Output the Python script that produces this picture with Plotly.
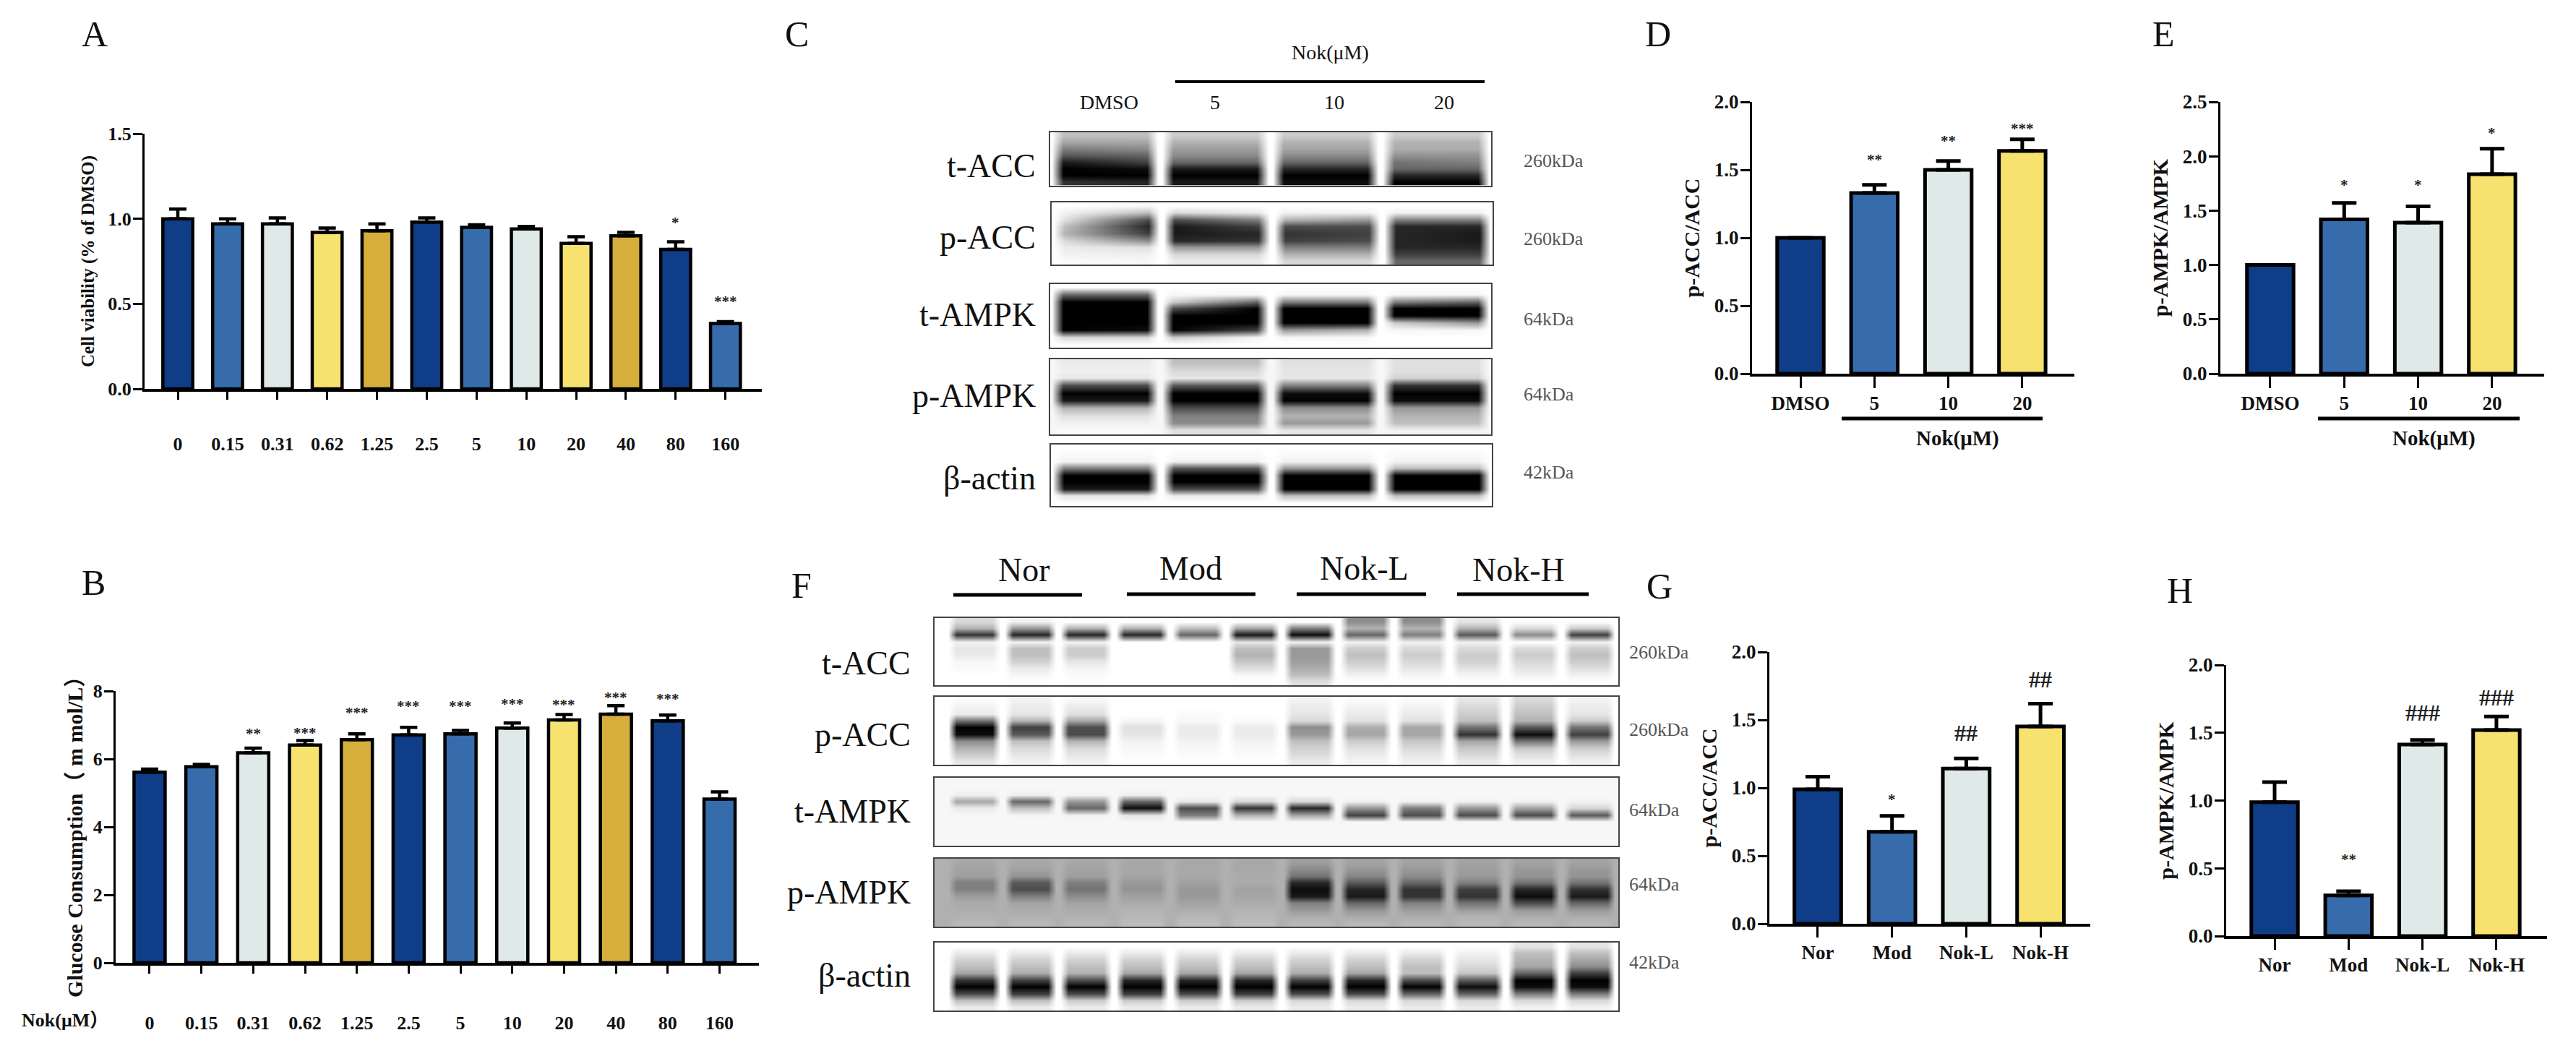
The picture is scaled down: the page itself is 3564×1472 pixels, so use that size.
import plotly.graph_objects as go

W, H = 3564, 1472
PAGE_MARGIN = 8
FW, FH = W - 2 * PAGE_MARGIN, H - 2 * PAGE_MARGIN
SERIF = "Liberation Serif, Noto Sans CJK SC, serif"
NAVY, BLUE, PALE, YELLOW, GOLD = "#0f3d87", "#366cab", "#dfe9e8", "#f7e26f", "#d6ae3b"

# ---------- bar chart data ----------
doses = ["0", "0.15", "0.31", "0.62", "1.25", "2.5", "5", "10", "20", "40", "80", "160"]
conc = ["DMSO", "5", "10", "20"]
groups = ["Nor", "Mod", "Nok-L", "Nok-H"]

a_values = [1.0, 0.97, 0.97, 0.92, 0.93, 0.98, 0.95, 0.94, 0.855, 0.90, 0.82, 0.385]
a_caps = [1.057, 1.0, 1.005, 0.945, 0.97, 1.005, 0.965, 0.955, 0.895, 0.92, 0.865, 0.395]
a_marks = ["", "", "", "", "", "", "", "", "", "", "*", "***"]
a_mark_y = [0, 0, 0, 0, 0, 0, 0, 0, 0, 0, 1.0, 0.537]

b_values = [5.61, 5.77, 6.18, 6.41, 6.57, 6.71, 6.74, 6.91, 7.15, 7.32, 7.12, 4.82]
b_caps = [5.70, 5.84, 6.32, 6.54, 6.74, 6.93, 6.84, 7.06, 7.31, 7.57, 7.29, 5.03]
b_marks = ["", "", "**", "***", "***", "***", "***", "***", "***", "***", "***", ""]
b_mark_y = [0, 0, 6.85, 6.88, 7.46, 7.67, 7.67, 7.72, 7.71, 7.91, 7.88, 0]

d_values = [1.0, 1.33, 1.50, 1.64]
d_caps = [1.0, 1.39, 1.565, 1.725]
d_marks = ["", "**", "**", "***"]
d_mark_y = [0, 1.60, 1.74, 1.83]

e_values = [1.0, 1.42, 1.39, 1.835]
e_caps = [1.0, 1.57, 1.54, 2.07]
e_marks = ["", "*", "*", "*"]
e_mark_y = [0, 1.77, 1.77, 2.245]

g_values = [0.99, 0.677, 1.142, 1.452]
g_caps = [1.083, 0.794, 1.217, 1.62]
g_marks = ["", "*", "##", "##"]
g_mark_y = [0, 0.942, 1.405, 1.80]

h_values = [0.988, 0.30, 1.414, 1.52]
h_caps = [1.136, 0.33, 1.447, 1.62]
h_marks = ["", "**", "###", "###"]
h_mark_y = [0, 0.59, 1.647, 1.76]

# ---------- blot density estimates (0 white .. 100 black), rows top to bottom ----------
c_tacc = [[25,25,20,20,20,20,20,20],[35,35,30,30,30,30,30,30],[50,45,38,38,35,35,32,32],[65,60,45,45,45,45,42,42],
          [90,75,60,60,60,60,55,50],[100,95,90,90,85,85,60,60],[100,100,100,100,100,100,85,85],[80,85,90,90,95,95,100,100]]
c_pacc = [[0,3,0,0,0,0,0,0],[5,25,15,8,5,5,5,5],[12,70,70,50,30,40,50,50],[25,85,90,75,70,70,85,85],[30,75,90,85,80,75,85,90],
          [15,45,85,80,75,70,85,90],[8,12,40,40,50,50,85,85],[5,6,15,15,30,30,75,75],[2,3,8,8,15,15,60,60]]
c_tampk = [[0,0,0,0,0,0,0,0],[60,60,3,3,3,3,3,3],[100,100,20,60,50,50,50,60],[100,100,70,100,100,100,100,100],
           [100,100,100,100,100,100,100,100],[100,100,100,100,100,100,20,40],[100,95,100,75,40,30,3,3],[15,15,20,4,3,3,0,0],[0,0,0,0,0,0,0,0]]
c_pampk = [[8,8,25,25,12,12,12,12],[6,6,15,15,10,10,12,12],[10,10,10,10,10,10,18,18],[70,70,65,65,50,50,80,80],
           [100,100,100,100,95,95,100,100],[90,90,100,100,100,100,95,95],[30,30,70,70,45,45,40,40],[12,12,50,50,30,30,30,30],
           [6,6,45,45,40,40,25,25],[2,2,12,12,10,10,5,5]]
c_actin = [[0,0,0,0,0,0,0,0],[2,2,2,2,2,2,2,2],[5,5,5,5,5,5,5,5],[50,50,65,65,40,40,25,25],[100,100,100,100,100,100,100,100],
           [100,100,100,100,100,100,100,100],[90,90,70,70,100,100,100,100],[10,10,8,8,25,25,25,25],[0,0,0,0,0,0,0,0]]

f_tacc = [[15,5,0,0,0,0,0,45,45,10,0,0],[30,40,30,30,25,35,50,30,30,30,15,20],[80,85,85,85,60,90,95,60,50,65,45,75],
          [5,5,5,0,0,10,5,5,5,5,0,5],[10,25,20,0,0,25,40,20,15,15,15,20],[8,25,20,0,0,30,40,25,20,20,20,25],
          [3,18,10,0,0,22,38,20,15,18,15,20],[2,8,4,0,0,12,32,12,10,10,10,12],[0,3,2,0,0,3,25,5,4,4,5,5],[0,0,0,0,0,0,12,0,0,0,0,0]]
f_pacc = [[2,5,3,0,0,0,5,2,2,10,15,5],[5,8,8,0,0,0,8,5,5,15,20,8],[8,10,12,0,2,0,10,8,8,20,25,10],[55,30,35,4,3,2,15,12,12,25,30,20],
          [100,75,70,12,8,8,45,32,35,55,65,55],[95,65,70,10,8,8,40,35,35,80,95,75],[45,25,30,5,5,5,25,20,22,35,55,40],
          [30,15,15,3,3,3,18,12,15,22,22,20],[20,10,10,2,2,2,14,8,10,15,12,12],[10,5,5,0,0,0,8,4,5,8,6,6]]
f_tampk = [[3,3,3,3,3,3,3,3,3,3,3,3],[3,3,3,3,3,3,3,3,3,3,3,3],[6,6,4,6,3,3,3,3,3,3,3,3],[35,60,40,60,8,15,15,5,5,5,5,5],
           [8,25,60,95,70,80,85,40,50,40,35,15],[3,4,5,10,50,30,35,75,70,70,70,65],[3,3,3,3,3,3,3,3,3,3,3,3],
           [3,3,3,3,3,3,3,3,3,3,3,3],[3,3,3,3,3,3,3,3,3,3,3,3],[3,3,3,3,3,3,3,3,3,3,3,3]]
f_pampk = [[34,34,34,34,34,34,38,36,36,36,36,36],[36,36,36,34,34,34,45,40,40,38,40,40],[38,42,38,36,34,33,55,48,45,40,42,42],
           [50,65,50,40,37,33,85,65,60,50,55,55],[50,70,55,42,40,36,95,85,80,75,85,80],[38,50,45,37,40,35,90,90,80,80,95,90],
           [33,36,36,33,36,33,50,60,50,55,70,60],[32,33,33,30,32,30,40,42,38,38,40,40],[30,30,30,28,28,28,32,33,32,30,32,32],
           [28,28,28,26,26,26,28,28,28,28,28,28]]
f_actin = [[0,0,0,0,0,0,0,0,0,0,10,10],[8,8,8,8,8,8,8,8,8,5,25,25],[18,18,18,18,18,18,18,18,18,10,30,35],
           [25,25,25,25,25,25,25,25,25,15,35,45],[35,32,30,35,35,35,32,35,25,22,60,75],[80,75,70,85,85,85,75,85,70,65,100,100],
           [100,100,100,100,100,100,100,100,100,95,95,95],[70,75,70,75,70,75,70,70,60,60,50,50],[25,25,20,20,20,20,15,15,15,15,15,15],
           [8,8,8,8,8,8,8,8,8,8,5,5]]

blot_names = ["t-ACC", "p-ACC", "t-AMPK", "p-AMPK", "β-actin"]
c_sizes = ["260kDa", "260kDa", "64kDa", "64kDa", "42kDa"]
f_sizes = ["260kDa", "260kDa", "64kDa", "64kDa", "42kDa"]

# ---------- helpers ----------
def px(x):
    return (x - PAGE_MARGIN) / FW

def py(y):
    return 1 - (y - PAGE_MARGIN) / FH

fig = go.Figure()
layout = {}
annots = []
shapes = []
n_ax = [0]


def text(s, x, y, size, bold=False, color="#111111", anchor="center", angle=0):
    annots.append(dict(text=s, x=px(x), y=py(y), xref="paper", yref="paper", showarrow=False, textangle=angle,
                       xanchor=anchor, yanchor="middle", font=dict(family=SERIF, size=size, color=color,
                       weight=700 if bold else 400)))


def hline(x0, x1, y, w):
    shapes.append(dict(type="line", xref="paper", yref="paper", x0=px(x0), x1=px(x1), y0=py(y), y1=py(y),
                       line=dict(color="black", width=w)))


def bar_chart(cats, vals, caps, marks, mark_y, colors, box, xr, ymax, dtick, title, title_size, standoff, bw, lw, size=27,
              stand=-2, cap=17, tlen=16, mark_shift=-5):
    n_ax[0] += 1
    i = n_ax[0]
    sfx = "" if i == 1 else str(i)
    err = [round(c - v, 4) for c, v in zip(caps, vals)]
    fig.add_trace(go.Bar(x=cats, y=vals, width=bw, marker=dict(color=colors, line=dict(color="black", width=lw)),
                         error_y=dict(type="data", symmetric=False, array=err, arrayminus=[0] * len(err),
                                      color="black", thickness=lw, width=cap),
                         xaxis="x" + sfx, yaxis="y" + sfx, showlegend=False))
    x0, x1, y0, y1 = box
    layout["xaxis" + sfx] = dict(domain=[px(x0), px(x1)], anchor="y" + sfx, type="category", range=xr,
                                 categoryorder="array", categoryarray=cats,
                                 showline=True, linecolor="black", linewidth=4, showgrid=False, zeroline=False,
                                 ticks="outside", ticklen=tlen, tickwidth=3, tickcolor="black", ticklabelstandoff=stand,
                                 tickfont=dict(family=SERIF, size=size, color="#111111", weight=700))
    yax = dict(domain=[py(y0), py(y1)], anchor="x" + sfx, range=[0, ymax], dtick=dtick, tick0=0,
               tickformat=".1f" if dtick < 1 else "d",
               showline=True, linecolor="black", linewidth=3, showgrid=False, zeroline=False,
               ticks="outside", ticklen=13, tickwidth=3, tickcolor="black", ticklabelstandoff=-3,
               tickfont=dict(family=SERIF, size=size, color="#111111", weight=700))
    if title:
        yax["title"] = dict(text=title, standoff=standoff,
                            font=dict(family=SERIF, size=title_size, color="#111111", weight=700))
    layout["yaxis" + sfx] = yax
    for idx, (m, my) in enumerate(zip(marks, mark_y)):
        if m:
            hash_mark = "#" in m
            annots.append(dict(text=m, x=idx, y=my, xref="x" + sfx, yref="y" + sfx, showarrow=False,
                               yshift=0 if hash_mark else mark_shift,
                               font=dict(family=SERIF, size=32 if hash_mark else 21, color="#222222", weight=700)))


def blot(rows, lanes, k, box, bg, hw, gap, lo, hi):
    n_ax[0] += 1
    sfx = str(n_ax[0])
    ny = len(rows)
    xs = [lo]
    for i in range(lanes):
        xs += [i - gap, i - hw, i + hw, i + gap]
    xs.append(hi)
    z = []
    for r in rows:
        line = [bg]
        for i in range(lanes):
            v = r[i * k:(i + 1) * k]
            line += [bg, v[0], v[-1], bg]
        line.append(bg)
        z.append(line)
    y = [(j + 0.5) / ny for j in range(ny)]
    fig.add_trace(go.Heatmap(x=xs, y=y, z=z, zmin=0, zmax=100, zsmooth="best", showscale=False,
                             colorscale=[[0, "#ffffff"], [1, "#000000"]], xaxis="x" + sfx, yaxis="y" + sfx))
    x0, x1, y0, y1 = box
    base = dict(showgrid=False, zeroline=False, showticklabels=False, ticks="", showline=True, mirror=True,
                linecolor="#444444", linewidth=2)
    layout["xaxis" + sfx] = dict(base, domain=[px(x0), px(x1)], anchor="y" + sfx, range=[lo, hi])
    layout["yaxis" + sfx] = dict(base, domain=[py(y1), py(y0)], anchor="x" + sfx, range=[1, 0])


seq12 = [NAVY, BLUE, PALE, YELLOW, GOLD, NAVY, BLUE, PALE, YELLOW, GOLD, NAVY, BLUE]
seq4 = [NAVY, BLUE, PALE, YELLOW]

# A B D E G H
bar_chart(doses, a_values, a_caps, a_marks, a_mark_y, seq12, (200, 1054, 538, 185), [-0.668, 11.73], 1.5, 0.5,
          "Cell viability (% of DMSO)", 25, 12, 0.6, 4.5, size=26, stand=39, cap=12, tlen=11)
bar_chart(doses, b_values, b_caps, b_marks, b_mark_y, seq12, (160, 1050, 1332, 956), [-0.655, 11.76], 8, 2,
          "", 0, 0, 0.6, 4.5, size=26, stand=46, cap=12, tlen=11)
text("Glucose Consumption（ m mol/L）", 103, 1151, 30, bold=True, angle=-90)
bar_chart(conc, d_values, d_caps, d_marks, d_mark_y, seq4, (2424, 2870, 517, 141), [-0.655, 3.705], 2, 0.5,
          "p-ACC/ACC", 30, 12, 0.63, 5)
bar_chart(conc, e_values, e_caps, e_marks, e_mark_y, seq4, (3072, 3519.5, 517, 141), [-0.674, 3.70], 2.5, 0.5,
          "p-AMPK/AMPK", 30, 12, 0.63, 5)
bar_chart(groups, g_values, g_caps, g_marks, g_mark_y, seq4, (2448, 2891.5, 1278, 902), [-0.652, 3.666], 2, 0.5,
          "p-ACC/ACC", 30, 12, 0.63, 5, tlen=15)
bar_chart(groups, h_values, h_caps, h_marks, h_mark_y, seq4, (3080, 3524, 1295, 920), [-0.655, 3.685], 2, 0.5,
          "p-AMPK/AMPK", 30, 12, 0.63, 5, tlen=15)

# C blots
c_boxes = [(1453, 2063, 182.5, 256.5), (1455, 2065, 280, 366), (1453, 2063, 392.5, 481), (1453, 2063, 497, 600.5), (1454, 2064, 614.5, 700)]
for rows, bx, bg in zip([c_tacc, c_pacc, c_tampk, c_pampk, c_actin], c_boxes, [0, 0, 0, 3, 0]):
    blot(rows, 4, 2, bx, bg, 0.38, 0.48, -0.495, 3.5)
for name, yy in zip(blot_names, [229, 328, 435, 547, 661]):
    text(name, 1435, yy, 46, anchor="right")
for s, yy in zip(c_sizes, [222, 330, 441, 545, 653]):
    text(s, 2106, yy, 26, color="#555555", anchor="left")
for s, xx in zip(conc, [1534, 1681, 1845.5, 1998]):
    text(s, xx, 141, 28)
hline(1626, 2054, 113, 4)
text("Nok(μM)", 1840, 73, 28)

# F blots
f_boxes = [(1293, 2239, 855, 948), (1293, 2239, 964, 1058), (1293, 2239, 1075.6, 1170), (1293, 2239, 1188, 1282), (1293, 2239, 1304, 1398)]
for rows, bx, bg in zip([f_tacc, f_pacc, f_tampk, f_pampk, f_actin], f_boxes, [0, 0, 3, 31, 0]):
    blot(rows, 12, 1, bx, bg, 0.32, 0.46, -0.71, 11.52)
for name, yy in zip(blot_names, [917, 1016.6, 1122, 1234.6, 1349.5]):
    text(name, 1262, yy, 46, anchor="right")
for s, yy in zip(f_sizes, [902, 1009.5, 1120.7, 1223.5, 1331.6]):
    text(s, 2252, yy, 26, color="#555555", anchor="left")
for s, xx, yy in zip(groups, [1417, 1647, 1887, 2101], [788, 786, 786, 788]):
    text(s, xx, yy, 46)
for x0, x1, yy in [(1319, 1497, 823), (1559, 1737, 822), (1794, 1973, 822), (2016, 2198, 822)]:
    hline(x0, x1, yy, 5)

# bar chart extras
text("Nok(μM）", 90, 1411, 26, bold=True)
hline(2548, 2826, 579, 5)
text("Nok(μM)", 2708, 606, 29, bold=True)
hline(3207, 3486, 579, 5)
text("Nok(μM)", 3367, 606, 29, bold=True)

# panel letters
for s, xx, yy in [("A", 131, 47), ("B", 129, 806), ("C", 1102, 47), ("D", 2294, 47), ("E", 2993, 47),
                  ("F", 1109, 810), ("G", 2296, 811), ("H", 3016, 817)]:
    text(s, xx, yy, 50)

fig.update_layout(width=FW, height=FH, autosize=False, margin=dict(l=0, r=0, t=0, b=0, autoexpand=False), paper_bgcolor="white",
                  plot_bgcolor="white", showlegend=False, annotations=annots, shapes=shapes, **layout)
fig.write_html("out.html", config=dict(displayModeBar=False))
